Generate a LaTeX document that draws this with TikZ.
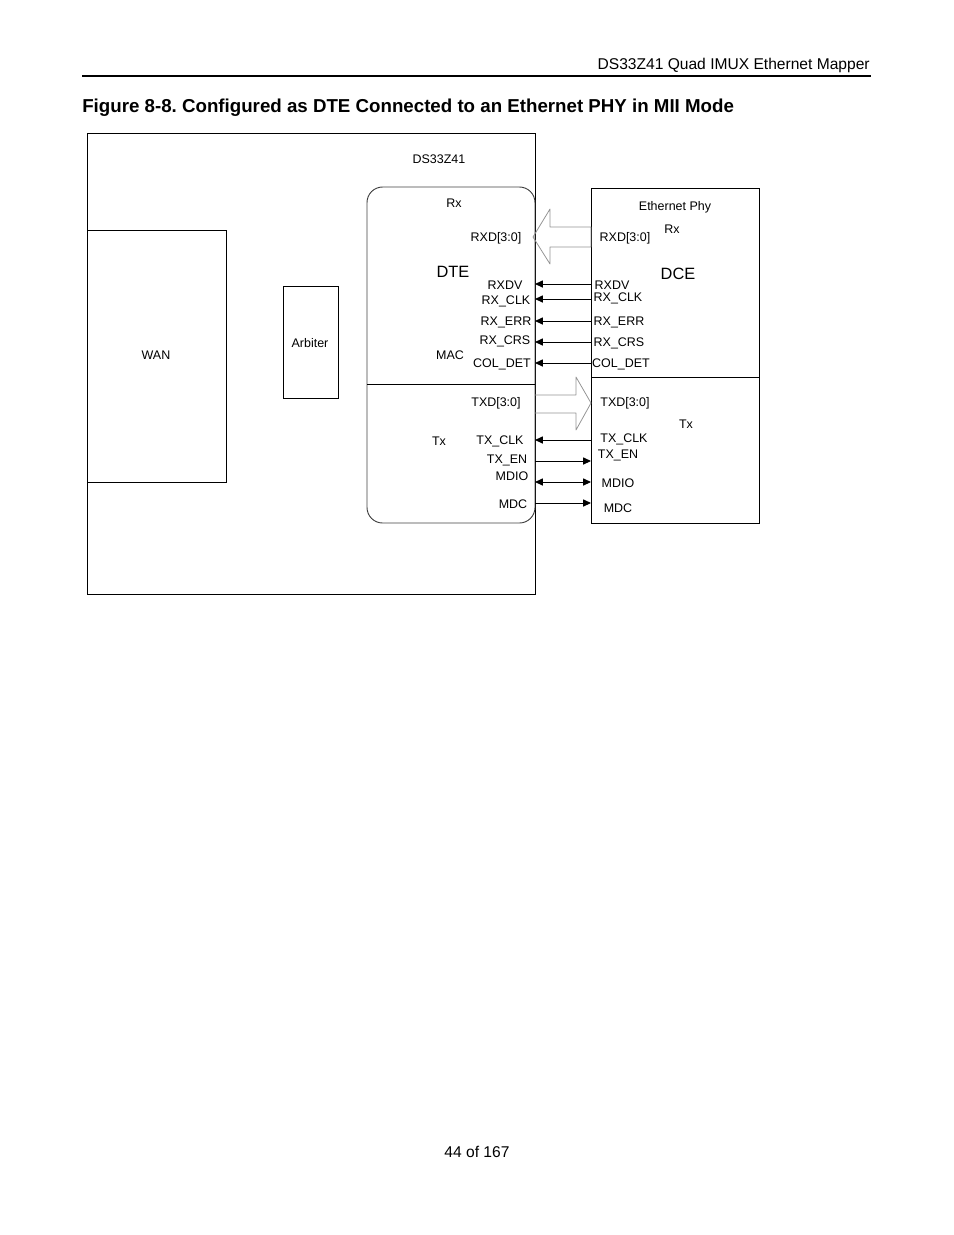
\documentclass[tikz,border=0pt]{standalone}
\usepackage{fontspec}
\setmainfont{Liberation Sans}
\usetikzlibrary{arrows.meta,fit,positioning}

\begin{document}
\begin{tikzpicture}[
    x=0.6415pt, y=-0.6415pt,
    >={Triangle[length=5pt, width=4.5pt]},
    nosep/.style={inner sep=0},
    blk/.style={draw, line width=0.6pt, nosep},
    lbl/.style={nosep, yshift=-1pt, font=\fontsize{8}{9}\selectfont},
    biglbl/.style={nosep, yshift=-1pt, font=\fontsize{10.5}{12}\selectfont},
    sig/.style={line width=0.6pt},
    bigarrow/.style={draw=gray!85, line width=0.5pt, line join=round}]

\useasboundingbox (0,0) rectangle (954,1235);

% page header and footer
\node[nosep, anchor=east, yshift=-1.2pt, font=\fontsize{10}{12}\selectfont] (hdr) at (870,64) {DS33Z41 Quad IMUX Ethernet Mapper};
\draw[line width=1pt] (82,76) -- (871,76);
\node[nosep, anchor=west, yshift=-1.8pt, font=\fontsize{12}{14}\bfseries] (ttl) at (82,105) {Figure 8-8.\ Configured as DTE Connected to an Ethernet PHY in MII Mode};
\node[nosep, yshift=-0.6pt, font=\fontsize{10}{12}\selectfont] (ftr) at (477,1151) {44 of 167};

% boxes
\node[blk, fit={(87,133) (535,594)}] (chip) {};
\node[lbl] (chipname) at (439,158) {DS33Z41};
\node[blk, fit={(87,230) (226,482)}] (wan) {};
\node[lbl] (wanname) at (156,354) {WAN};
\node[blk, fit={(283,286) (338,398)}] (arb) {};
\node[lbl] (arbname) at (310,341) {Arbiter};
\node[blk, draw=black!75, rounded corners=10pt, fit={(367,187) (535,523)}] (mac) {};
\draw[sig] (367,384) -- (535,384);
\node[blk, fit={(591,188) (759,523)}] (phy) {};
\draw[sig] (591,377) -- (759,377);

% data paths
\draw[bigarrow] (591,227) -- (550,227) -- (550,209) -- (533,237) -- (550,264) -- (550,247) -- (591,247) -- cycle;
\draw[bigarrow] (535,395) -- (576,395) -- (576,377) -- (591,403) -- (576,430) -- (576,413) -- (535,413);

% MAC side labels
\foreach \x/\y/\t [count=\i] in {454/202/Rx, 496/237/RXD[3:0], 505/284/RXDV, 506/300/RX\_CLK,
    506/321/RX\_ERR, 505/340/RX\_CRS, 450/354/MAC, 502/363/COL\_DET, 496/402/TXD[3:0],
    439/440/Tx, 500/440/TX\_CLK, 507/459/TX\_EN, 512/475/MDIO, 513/503/MDC}
  \node[lbl] (macl\i) at (\x,\y) {\t};
\node[biglbl] (dte) at (453,270) {DTE};

% PHY side labels
\foreach \x/\y/\t [count=\i] in {675/206/Ethernet Phy, 672/228/Rx, 625/237/RXD[3:0], 612/284/RXDV,
    618/297/RX\_CLK, 619/321/RX\_ERR, 619/342/RX\_CRS, 621/363/COL\_DET, 625/402/TXD[3:0],
    686/423/Tx, 624/438/TX\_CLK, 618/454/TX\_EN, 618/482/MDIO, 618/507/MDC}
  \node[lbl] (phyl\i) at (\x,\y) {\t};
\node[biglbl] (dce) at (678,272) {DCE};

% signal pins
\foreach \n/\y in {rxdv/284, rxclk/299, rxerr/321, rxcrs/342, coldet/363, txclk/440, txen/461, mdio/482, mdc/503} {
  \coordinate (m\n) at (535,\y);
  \coordinate (p\n) at (591,\y);
}
\draw[sig, <-] (mrxdv) -- (prxdv);
\draw[sig, <-] (mrxclk) -- (prxclk);
\draw[sig, <-] (mrxerr) -- (prxerr);
\draw[sig, <-] (mrxcrs) -- (prxcrs);
\draw[sig, <-] (mcoldet) -- (pcoldet);
\draw[sig, <-] (mtxclk) -- (ptxclk);
\draw[sig, ->] (mtxen) -- (ptxen);
\draw[sig, <->] (mmdio) -- (pmdio);
\draw[sig, ->] (mmdc) -- (pmdc);

\end{tikzpicture}
\end{document}
